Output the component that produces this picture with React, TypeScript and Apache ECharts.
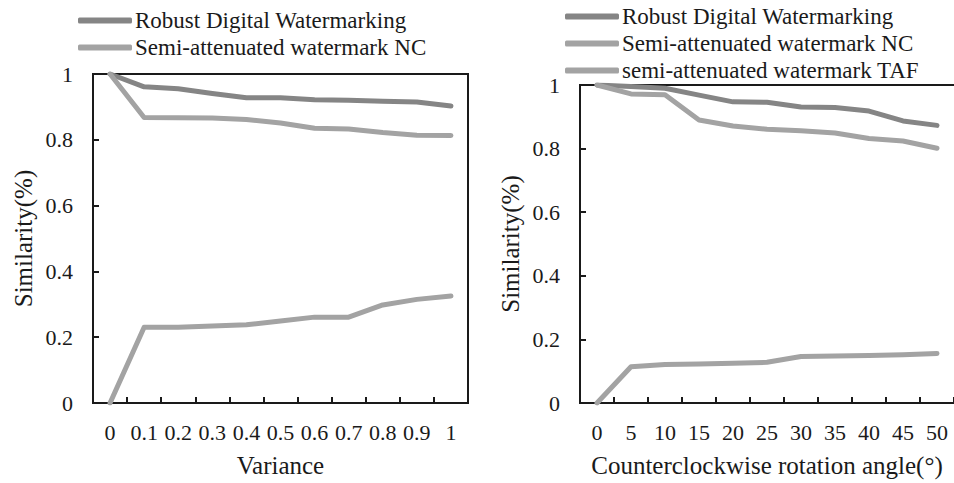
import React, { useEffect, useRef } from "react";
import * as echarts from "echarts";

const leftCategories = ["0", "0.1", "0.2", "0.3", "0.4", "0.5", "0.6", "0.7", "0.8", "0.9", "1"];
const rightCategories = ["0", "5", "10", "15", "20", "25", "30", "35", "40", "45", "50"];

const leftRobust = [1.0, 0.961, 0.955, 0.941, 0.928, 0.928, 0.922, 0.92, 0.917, 0.915, 0.903];
const leftNC = [1.0, 0.868, 0.867, 0.866, 0.862, 0.851, 0.835, 0.833, 0.822, 0.814, 0.813];
const leftTAF = [0.0, 0.23, 0.23, 0.234, 0.238, 0.249, 0.261, 0.261, 0.298, 0.315, 0.325];

const rightRobust = [1.0, 0.995, 0.99, 0.968, 0.947, 0.946, 0.931, 0.929, 0.918, 0.887, 0.873];
const rightNC = [1.0, 0.972, 0.969, 0.89, 0.871, 0.861, 0.856, 0.849, 0.832, 0.824, 0.801];
const rightTAF = [0.0, 0.114, 0.121, 0.123, 0.125, 0.128, 0.146, 0.148, 0.149, 0.152, 0.156];

const NAME_ROBUST = "Robust Digital Watermarking";
const NAME_NC = "Semi-attenuated watermark NC";
const NAME_TAF = "semi-attenuated watermark TAF";

const FONT = "'Liberation Serif', 'Times New Roman', serif";
const DARK = "#858585";
const LIGHT = "#a3a3a3";
const TEXT = "#1a1a1a";

const GRID_L = { left: 93, top: 74, width: 375, height: 329 };
const GRID_R = { left: 580, top: 85, width: 377, height: 318 };

export default function App() {
  const ref = useRef<HTMLDivElement>(null);
  useEffect(() => {
    document.body.style.margin = "0";
    if (!ref.current) return;
    const chart = echarts.init(ref.current, undefined, { renderer: "svg" });
    const mkLine = () => ({ show: true, onZero: false, lineStyle: { color: TEXT, width: 2, type: "solid" } });
    const mkTick = () => ({ show: true, inside: true, length: 6, lineStyle: { color: TEXT, width: 2 } });
    const xAxisBase = (idx: number, data: string[], name: string) => ({
      type: "category",
      gridIndex: idx,
      data,
      boundaryGap: true,
      position: "bottom",
      name,
      nameLocation: "middle",
      nameGap: 50,
      nameTextStyle: { fontFamily: FONT, fontSize: 25, color: TEXT },
      axisLine: mkLine(),
      axisTick: { ...mkTick(), alignWithLabel: false, interval: 0 },
      axisLabel: { interval: 0, fontFamily: FONT, fontSize: 22, color: TEXT, margin: 18 },
      splitLine: { show: false },
    });
    const yAxisBase = (idx: number) => ({
      type: "value",
      gridIndex: idx,
      min: 0,
      max: 1,
      interval: 0.2,
      position: "left",
      name: "Similarity(%)",
      nameLocation: "middle",
      nameGap: 57,
      nameTextStyle: { fontFamily: FONT, fontSize: 25, color: TEXT },
      axisLine: mkLine(),
      axisTick: mkTick(),
      axisLabel: { fontFamily: FONT, fontSize: 22, color: TEXT, margin: 20 },
      splitLine: { show: false },
    });
    const line = (name: string, data: number[], color: string, idx: number) => ({
      type: "line",
      name,
      data,
      xAxisIndex: idx,
      yAxisIndex: idx,
      symbol: "none",
      z: 3,
      lineStyle: { color, width: 5, cap: "round", join: "round" },
      itemStyle: { color },
    });
    const legendBase = {
      orient: "vertical",
      icon: "roundRect",
      itemWidth: 54,
      itemHeight: 6,
      itemGap: 4,
      padding: 0,
      textStyle: { fontFamily: FONT, fontSize: 23, color: TEXT, padding: [0, 0, 0, -2] },
    };
    const frame = (g: { left: number; top: number; width: number; height: number }) => ({
      type: "rect",
      z: 1,
      silent: true,
      shape: { x: g.left, y: g.top, width: g.width, height: g.height },
      style: { fill: "none", stroke: TEXT, lineWidth: 2 },
    });
    chart.setOption({
      animation: false,
      backgroundColor: "#fff",
      legend: [
        { ...legendBase, left: 78, top: 9, data: [NAME_ROBUST, NAME_NC] },
        { ...legendBase, left: 565, top: 5, data: [NAME_ROBUST, NAME_NC, NAME_TAF] },
      ],
      grid: [GRID_L, GRID_R],
      graphic: [frame(GRID_L), frame(GRID_R)],
      xAxis: [
        xAxisBase(0, leftCategories, "Variance"),
        xAxisBase(1, rightCategories, "Counterclockwise rotation angle(°)"),
      ],
      yAxis: [yAxisBase(0), yAxisBase(1)],
      series: [
        line(NAME_ROBUST, leftRobust, DARK, 0),
        line(NAME_NC, leftNC, LIGHT, 0),
        line(NAME_TAF, leftTAF, LIGHT, 0),
        line(NAME_ROBUST, rightRobust, DARK, 1),
        line(NAME_NC, rightNC, LIGHT, 1),
        line(NAME_TAF, rightTAF, LIGHT, 1),
      ],
    });
    return () => chart.dispose();
  }, []);
  return <div ref={ref} style={{ width: 954, height: 483 }} />;
}
